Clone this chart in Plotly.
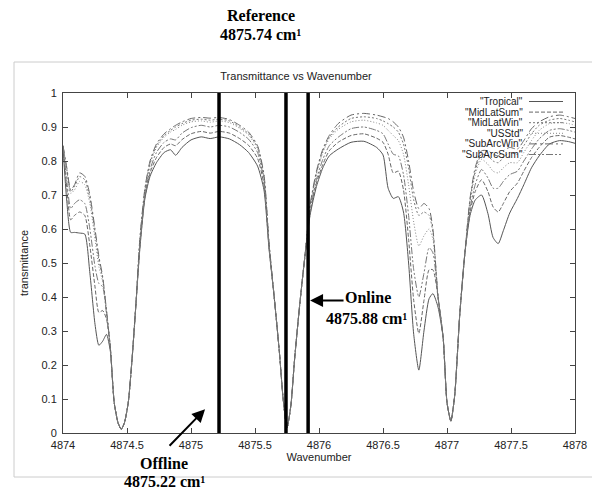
import plotly.graph_objects as go

# ---------------- data ----------------
wavenumber = [
    4874.00, 4874.03, 4874.06, 4874.09, 4874.13, 4874.17, 4874.21, 4874.25, 4874.28, 4874.31,
    4874.34, 4874.37, 4874.40, 4874.43, 4874.455, 4874.48, 4874.51, 4874.54, 4874.57, 4874.60,
    4874.64, 4874.68, 4874.73, 4874.79, 4874.84, 4874.88, 4874.93, 4875.00, 4875.08, 4875.15,
    4875.22, 4875.30, 4875.38, 4875.45, 4875.52, 4875.57, 4875.61, 4875.65, 4875.69, 4875.72,
    4875.75, 4875.78, 4875.81, 4875.85, 4875.89, 4875.93, 4875.98, 4876.03, 4876.08, 4876.15,
    4876.25, 4876.35, 4876.45, 4876.50, 4876.54, 4876.58, 4876.62, 4876.66, 4876.70, 4876.74,
    4876.78, 4876.82, 4876.86, 4876.89, 4876.93, 4876.97, 4877.00, 4877.03, 4877.06, 4877.10,
    4877.14, 4877.18, 4877.22, 4877.27, 4877.32, 4877.36, 4877.40, 4877.44, 4877.49, 4877.55,
    4877.60, 4877.66, 4877.72, 4877.80, 4877.88, 4877.95, 4878.00,
]

tropical = [
    .84, .68, .59, .59, .588, .585, .47, .32, .258, .27,
    .29, .24, .09, .03, .011, .03, .09, .22, .38, .54,
    .69, .755, .795, .825, .833, .817, .84, .862, .871, .866,
    .871, .865, .848, .825, .785, .715, .54, .40, .24, .10,
    .015, .08, .22, .38, .52, .64, .725, .78, .815, .835,
    .855, .858, .84, .818, .72, .69, .695, .65, .50, .29,
    .185, .30, .395, .41, .37, .28, .09, .035, .11, .35,
    .53, .64, .685, .70, .645, .575, .557, .595, .647, .69,
    .73, .78, .815, .85, .86, .857, .852,
]

mid_lat_sum = [
    .842, .72, .627, .64, .65, .64, .55, .43, .355, .36,
    .335, .25, .09, .03, .011, .03, .09, .22, .38, .545,
    .695, .765, .81, .84, .85, .845, .863, .88, .887, .882,
    .887, .882, .866, .846, .808, .73, .545, .40, .24, .10,
    .015, .08, .22, .38, .52, .645, .735, .79, .83, .855,
    .875, .88, .867, .855, .82, .765, .77, .715, .57, .39,
    .293, .39, .48, .48, .40, .28, .09, .035, .11, .35,
    .53, .65, .71, .745, .71, .665, .65, .675, .71, .735,
    .77, .81, .84, .87, .875, .87, .865,
]

mid_lat_win = [
    .845, .775, .71, .725, .754, .745, .69, .59, .51, .455,
    .36, .25, .09, .03, .011, .03, .09, .22, .38, .565,
    .715, .795, .845, .875, .89, .90, .91, .92, .923, .92,
    .923, .918, .90, .88, .84, .755, .555, .40, .24, .10,
    .015, .08, .22, .38, .52, .665, .765, .83, .87, .90,
    .925, .93, .925, .918, .91, .90, .885, .85, .78, .685,
    .64, .65, .64, .59, .40, .28, .09, .035, .11, .35,
    .53, .685, .77, .82, .815, .80, .795, .81, .825, .82,
    .845, .88, .905, .92, .925, .92, .915,
]

us_std = [
    .845, .77, .705, .715, .74, .73, .675, .57, .49, .445,
    .355, .25, .09, .03, .011, .03, .09, .22, .38, .56,
    .71, .79, .84, .87, .885, .893, .905, .915, .918, .914,
    .918, .913, .896, .876, .836, .75, .55, .40, .24, .10,
    .015, .08, .22, .38, .52, .66, .76, .825, .865, .893,
    .915, .92, .912, .905, .89, .875, .86, .82, .73, .62,
    .55, .58, .60, .57, .40, .28, .09, .035, .11, .35,
    .53, .68, .76, .805, .79, .77, .765, .78, .795, .795,
    .825, .86, .89, .91, .913, .91, .905,
]

sub_arc_win = [
    .845, .78, .715, .73, .765, .755, .70, .60, .52, .46,
    .36, .25, .09, .03, .011, .03, .09, .22, .38, .57,
    .72, .80, .85, .88, .895, .905, .915, .925, .928, .926,
    .928, .922, .905, .885, .845, .76, .56, .40, .24, .10,
    .015, .08, .22, .38, .52, .67, .77, .835, .875, .91,
    .935, .94, .935, .93, .925, .915, .90, .87, .80, .71,
    .66, .675, .66, .60, .40, .28, .09, .035, .11, .35,
    .53, .69, .78, .83, .83, .82, .815, .83, .84, .835,
    .86, .895, .915, .93, .935, .93, .925,
]

sub_arc_sum = [
    .843, .74, .66, .675, .686, .675, .60, .49, .44, .43,
    .35, .25, .09, .03, .011, .03, .09, .22, .38, .55,
    .70, .775, .825, .855, .865, .862, .882, .898, .905, .90,
    .905, .90, .884, .864, .825, .742, .55, .40, .24, .10,
    .015, .08, .22, .38, .52, .65, .745, .805, .845, .87,
    .895, .90, .89, .88, .85, .82, .815, .76, .64, .48,
    .40, .47, .545, .53, .40, .28, .09, .035, .11, .35,
    .53, .66, .73, .775, .75, .72, .72, .74, .76, .77,
    .80, .835, .865, .89, .895, .89, .885,
]

series_labels = ['"Tropical"', '"MidLatSum"', '"MidLatWin"', '"USStd"', '"SubArcWin"', '"SubArcSum"']
series_values = [tropical, mid_lat_sum, mid_lat_win, us_std, sub_arc_win, sub_arc_sum]

marker_lines = [4875.219, 4875.742, 4875.915]  # Offline, Reference, Online
x_ticks = [4874, 4874.5, 4875, 4875.5, 4876, 4876.5, 4877, 4877.5, 4878]
y_ticks = [0, 0.1, 0.2, 0.3, 0.4, 0.5, 0.6, 0.7, 0.8, 0.9, 1]

# ---------------- styles ----------------
line_styles = [
    dict(color="#555555", dash="solid"),
    dict(color="#666666", dash="4px,2px"),
    dict(color="#777777", dash="2px,2px"),
    dict(color="#888888", dash="1px,2px"),
    dict(color="#666666", dash="8px,3px,2px,3px"),
    dict(color="#777777", dash="7px,2px,2px,2px,2px,2px"),
]

W, H = 592, 490
L, R, T, B = 63, 17, 93, 57
PW, PH = W - L - R, H - T - B


def xp(px):  # picture pixel -> paper
    return (px - L) / PW


def yp(py):
    return (H - B - py) / PH


fig = go.Figure()
for label, vals, st in zip(series_labels, series_values, line_styles):
    fig.add_trace(go.Scatter(
        x=wavenumber, y=vals, mode="lines", name=label, showlegend=False,
        line=dict(color=st["color"], dash=st["dash"], width=1, shape="spline", smoothing=0.6),
    ))

shapes = []
for xv in marker_lines:
    shapes.append(dict(type="line", xref="x", yref="y", x0=xv, x1=xv, y0=0, y1=1.015,
                       line=dict(color="black", width=3.5)))
shapes.append(dict(type="rect", xref="paper", yref="paper", x0=xp(14), x1=xp(600),
                   y0=yp(477), y1=yp(62), line=dict(color="#cccccc", width=1), layer="below"))

annotations = []
font_lbl = dict(family="Liberation Sans, Arial", size=10, color="#222222")
legend_rows = [101.5, 112.1, 122.7, 133.3, 143.9, 154.5]
for label, st, py in zip(series_labels, line_styles, legend_rows):
    annotations.append(dict(text=label, xref="paper", yref="paper", x=xp(524), y=yp(py),
                            xanchor="right", yanchor="middle", showarrow=False, font=font_lbl,
                            borderpad=0))
    shapes.append(dict(type="line", xref="paper", yref="paper", x0=xp(529), x1=xp(563),
                       y0=yp(py), y1=yp(py), line=dict(color=st["color"], dash=st["dash"], width=1)))

serif = dict(family="Liberation Serif, Times New Roman, serif", size=16, color="black")
for txt, px, py in [
    ("<b>Reference</b>", 261, 16), ("<b>4875.74 cm¹</b>", 260, 35),
    ("<b>Online</b>", 368, 297), ("<b>4875.88 cm¹</b>", 366, 318),
    ("<b>Offline</b>", 164, 464), ("<b>4875.22 cm¹</b>", 164, 481),
]:
    annotations.append(dict(text=txt, xref="paper", yref="paper", x=xp(px), y=yp(py),
                            xanchor="center", yanchor="middle", showarrow=False, font=serif,
                            borderpad=0))

arrow = dict(text="", showarrow=True, arrowhead=2, arrowsize=1.3, arrowwidth=2,
             arrowcolor="black", xref="x", yref="y", standoff=0, startstandoff=0)
annotations.append(dict(arrow, x=4875.742, y=1.01, ax=0, ay=-40))
annotations.append(dict(arrow, x=4875.93, y=0.39, ax=35, ay=0))
annotations.append(dict(arrow, x=4875.11, y=0.07, ax=-37, ay=38))

axis_common = dict(showline=True, linecolor="#444444", linewidth=1, mirror="ticks",
                   ticks="inside", ticklen=5, tickcolor="#444444", showgrid=False, zeroline=False,
                   tickfont=dict(family="Liberation Sans, Arial", size=11, color="#222222"))

fig.update_layout(
    width=W, height=H, margin=dict(l=L, r=R, t=T, b=B, autoexpand=False),
    paper_bgcolor="white", plot_bgcolor="white", hovermode=False,
    title=dict(text="Transmittance vs Wavenumber", x=xp(319), xanchor="center",
               y=1 - 76 / H, yanchor="middle", yref="container",
               font=dict(family="Liberation Sans, Arial", size=11, color="#222222")),
    xaxis=dict(axis_common, range=[4874, 4878], tickvals=x_ticks,
               ticktext=[f"{v:g}" for v in x_ticks], ticklabelstandoff=2,
               title=dict(text="Wavenumber", standoff=3,
                          font=dict(family="Liberation Sans, Arial", size=11, color="#222222"))),
    yaxis=dict(axis_common, range=[0, 1], tickvals=y_ticks,
               ticktext=[f"{v:g}" for v in y_ticks], ticklabelstandoff=3,
               title=dict(text="transmittance", standoff=10,
                          font=dict(family="Liberation Sans, Arial", size=11, color="#222222"))),
    shapes=shapes, annotations=annotations,
)

# remove the page's default body margin so the figure fills the 592x490 window exactly
fig.write_html("out.html", config={"displayModeBar": False, "staticPlot": True},
               post_script="document.body.style.margin='0';document.body.style.overflow='hidden';")
